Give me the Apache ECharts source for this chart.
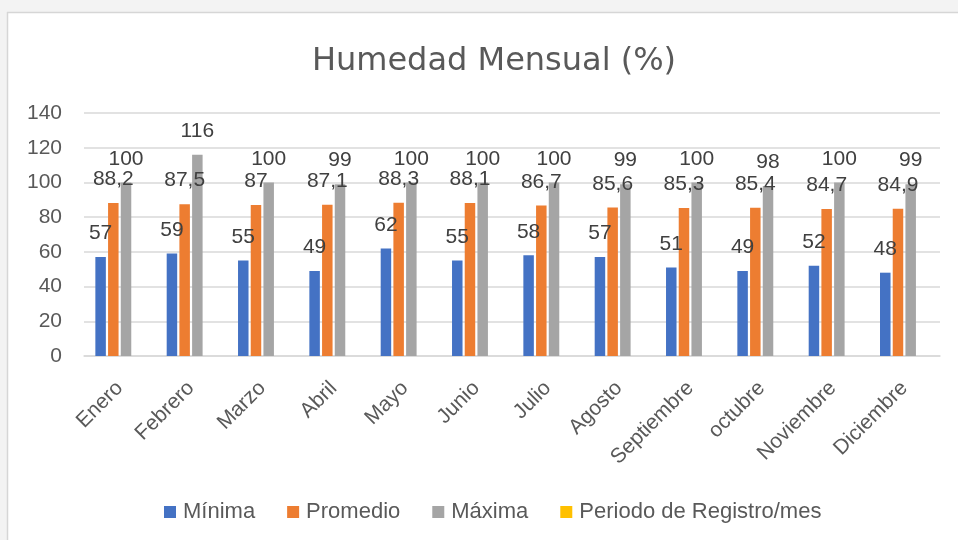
<!DOCTYPE html>
<html>
<head>
<meta charset="utf-8">
<script src="https://cdn.jsdelivr.net/npm/echarts@6/dist/echarts.min.js"></script>
<style>
html,body{margin:0;padding:0;background:#f3f3f3;}
#chart{position:absolute;left:0;top:0;width:958px;height:540px;}
</style>
</head>
<body>
<div id="chart"></div>
<script>
const categories = ['Enero','Febrero','Marzo','Abril','Mayo','Junio','Julio','Agosto','Septiembre','octubre','Noviembre','Diciembre'];
const minima   = [57,59,55,49,62,55,58,57,51,49,52,48];
const promedio = [88.2,87.5,87,87.1,88.3,88.1,86.7,85.6,85.3,85.4,84.7,84.9];
const maxima   = [100,116,100,99,100,100,100,99,100,98,100,99];
const periodo  = [null,null,null,null,null,null,null,null,null,null,null,null];
const yTicks = {min:0, max:140, interval:20};

const FONT = '"Liberation Sans", Arial, sans-serif';
const labelCfg = {
  show:true, position:'top', distance:13,
  fontFamily:FONT, fontSize:21, color:'#404040',
  formatter: p => p.value == null ? '' : String(p.value).replace('.', ',')
};
function mk(name, data, color){
  return {name, type:'bar', data, barWidth:10.5, barGap:'21%',
    itemStyle:{color}, label:labelCfg};
}
const chart = echarts.init(document.getElementById('chart'));
chart.setOption({
  backgroundColor:'#ffffff',
  animation:false,
  graphic:[
    {type:'rect', shape:{x:0,y:0,width:958,height:12}, style:{fill:'#f3f3f3'}, silent:true},
    {type:'rect', shape:{x:0,y:0,width:7,height:540}, style:{fill:'#f3f3f3'}, silent:true},
    {type:'line', shape:{x1:7,y1:12.5,x2:958,y2:12.5}, style:{stroke:'#d6d6d6',lineWidth:1.5}, silent:true},
    {type:'line', shape:{x1:7.5,y1:12,x2:7.5,y2:540}, style:{stroke:'#d6d6d6',lineWidth:1.5}, silent:true}
  ],
  title:{
    text:'Humedad Mensual (%)', left:489, top:41, textAlign:'center',
    textStyle:{fontFamily:'"DejaVu Sans", sans-serif', fontSize:32, fontWeight:'normal', color:'#595959'}
  },
  legend:{
    bottom:12, left:159, itemWidth:12, itemHeight:12, itemGap:32,
    icon:'rect',
    textStyle:{fontFamily:FONT, fontSize:22, color:'#595959', padding:[0,0,0,2]},
    data:['Mínima','Promedio','Máxima','Periodo de Registro/mes']
  },
  grid:{left:84, right:18, top:113, bottom:184, containLabel:false},
  xAxis:{
    type:'category', data:categories,
    axisLine:{lineStyle:{color:'#d9d9d9', width:1.5}},
    axisTick:{show:false},
    axisLabel:{rotate:45, interval:0, margin:29, fontFamily:FONT, fontSize:21, color:'#595959'}
  },
  yAxis:{
    type:'value', min:yTicks.min, max:yTicks.max, interval:yTicks.interval,
    axisLine:{show:false}, axisTick:{show:false},
    splitLine:{lineStyle:{color:'#d9d9d9', width:1.5}},
    axisLabel:{margin:22, fontFamily:FONT, fontSize:21, color:'#595959'}
  },
  series:[
    mk('Mínima', minima, '#4472c4'),
    mk('Promedio', promedio, '#ed7d31'),
    mk('Máxima', maxima, '#a5a5a5'),
    mk('Periodo de Registro/mes', periodo, '#ffc000')
  ]
});
</script>
</body>
</html>
